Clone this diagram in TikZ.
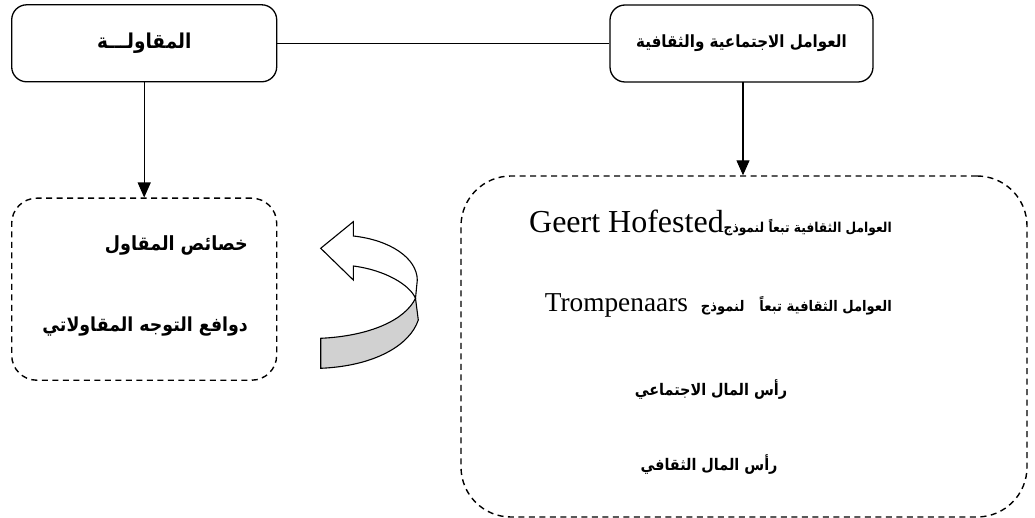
\documentclass[tikz,border=0pt]{standalone}
\usepackage{fontspec}
\setmainfont{Liberation Serif}
\newfontfamily\arfont[Script=Arabic]{DejaVu Sans Condensed}
\TeXXeTstate=1
\usetikzlibrary{arrows.meta}
\tikzset{
  solidbox/.style={draw, line width=1.3pt, rounded corners=15pt, inner sep=0pt},
  dashbox/.style={draw, line width=1.4pt, dash pattern=on 6pt off 4.5pt, inner sep=0pt},
  artext/.style={inner sep=0pt, font=\arfont\bfseries},
  conn/.style={line width=1.1pt},
  arr/.style={conn, -{Triangle[length=15pt,width=13pt]}},
}
\begin{document}
\begin{tikzpicture}[x=1pt,y=-1pt]
\useasboundingbox (0,0) rectangle (1035,518);
% top boxes
\node[solidbox, minimum width=265pt, minimum height=77pt, font=\arfont\bfseries\fontsize{20.5}{22}\selectfont] (ent) at (144.2,43.3) {\raisebox{1pt}{\beginR المقاولـــة\endR}};
\node[solidbox, minimum width=263pt, minimum height=77pt, font=\arfont\bfseries\fontsize{16.8}{20}\selectfont] (soc) at (741.5,43.5) {\raisebox{5pt}{\beginR العوامل الاجتماعية والثقافية\endR}};
% dashed boxes
\node[dashbox, rounded corners=25pt, minimum width=265pt, minimum height=182pt] (lbox) at (144.2,289.2) {};
\node[dashbox, rounded corners=50pt, minimum width=566pt, minimum height=341pt] (rbox) at (744,346.5) {};
% texts in left dashed box
\node[artext, font=\arfont\bfseries\fontsize{19.5}{22}\selectfont, anchor=base east] (l1) at (248,251) {\beginR خصائص المقاول\endR};
\node[artext, font=\arfont\bfseries\fontsize{19.3}{22}\selectfont, anchor=base east] (l2) at (248,331) {\beginR دوافع التوجه المقاولاتي\endR};
% texts in right dashed box
\node[inner sep=0pt, anchor=base east] (r1) at (892,233) {\beginR{\arfont\bfseries\fontsize{13.6}{16}\selectfont العوامل الثقافية تبعاً لنموذج}\beginL{\fontsize{32}{36}\selectfont Geert Hofested}\endL\endR};
\node[inner sep=0pt, anchor=base east] (r2) at (892,312) {\beginR{\arfont\bfseries\fontsize{14.6}{16}\selectfont العوامل الثقافية تبعاً\hspace{15pt}لنموذج\hspace{13pt}}\beginL{\fontsize{27.3}{34}\selectfont Trompenaars}\endL\endR};
\node[artext, font=\arfont\bfseries\fontsize{16}{18}\selectfont, anchor=base] (r3) at (711,395) {\beginR رأس المال الاجتماعي\endR};
\node[artext, font=\arfont\bfseries\fontsize{16}{18}\selectfont, anchor=base] (r4) at (709,470) {\beginR رأس المال الثقافي\endR};
% connectors
\draw[conn] (ent.east) -- (ent.east -| soc.west);
\draw[arr] (ent.south) -- (ent.south |- lbox.north);
\draw[arr] (743,82) coordinate (sA) -- (sA |- rbox.north);
% curved arrow
\coordinate (A) at (320.7,248.3);
\coordinate (B) at (353.3,221.7);
\coordinate (C) at (353.3,236);
\coordinate (D) at (417.3,280);
\coordinate (E) at (418.3,320);
\coordinate (F) at (353.3,266);
\coordinate (G) at (415.5,298.3);
\coordinate (H) at (320.7,338.3);
\coordinate (I) at (320.7,368.3);
\coordinate (J) at (353.3,280);
\draw[line width=1.1pt, line join=miter, fill=white] (A) -- (B) -- (C) .. controls (390,240) and (417,258) .. (D) -- (G) .. controls (410,285) and (385,270) .. (F) -- (J) -- cycle;
\draw[line width=1.1pt, fill=black!18] (H) .. controls (370,336) and (405,320) .. (G) -- (E) .. controls (410,345) and (375,366) .. (I) -- cycle;
\end{tikzpicture}
\end{document}
